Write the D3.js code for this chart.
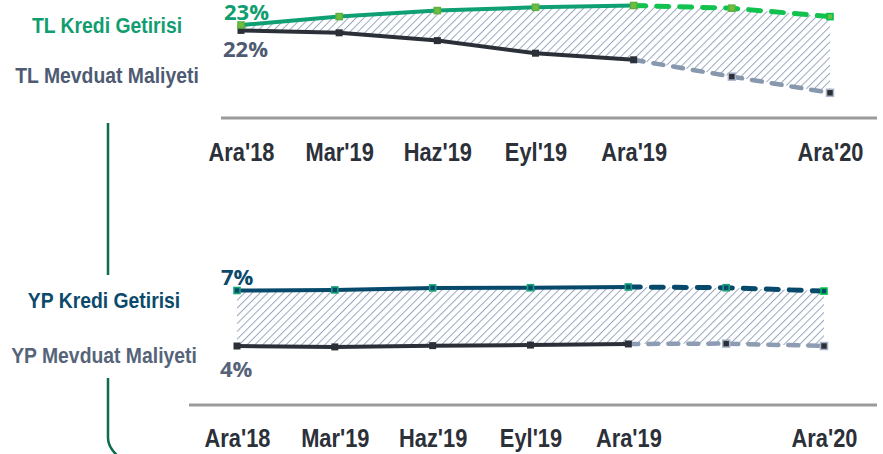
<!DOCTYPE html>
<html>
<head>
<meta charset="utf-8">
<script src="https://cdn.jsdelivr.net/npm/d3@7"></script>
<style>
    body { margin: 0; background: #fff; }
    svg { display: block; }
    .narrow { font-family: "Liberation Sans Narrow", "Arial Narrow", "Liberation Sans", sans-serif; font-weight: bold; }
    .pct { font-family: "Open Sans", "Liberation Sans", sans-serif; font-weight: bold; font-size: 22px; }
    .x-axis text { font-size: 26px; fill: #2b3039; }
</style>
</head>
<body>
<div id="chart"></div>
<script>
// periods (Haz'20 is a forecast point with no label)
const categories = ["Ara'18", "Mar'19", "Haz'19", "Eyl'19", "Ara'19", "Haz'20", "Ara'20"];
const tickLabels = ["Ara'18", "Mar'19", "Haz'19", "Eyl'19", "Ara'19", "", "Ara'20"];
const actualCount = 5; // first 5 points are actuals, rest forecast

// TL (%)
const tlKredi    = [23.0, 24.4, 25.4, 25.95, 26.25, 25.8, 24.4];
const tlMevduat  = [22.1, 21.7, 20.4, 18.3, 17.2, 14.4, 11.7];

// YP (%)
const ypKredi    = [7.0, 7.03, 7.14, 7.15, 7.19, 7.15, 6.97];
const ypMevduat  = [4.0, 3.95, 4.02, 4.05, 4.11, 4.13, 4.0];

const W = 883, H = 454;

// no narrow font installed -> squeeze the regular bold one
const axisSqueeze = 0.84, legendSqueeze = 0.88;

const svg = d3.select("#chart").append("svg")
    .attr("width", W)
    .attr("height", H);

// hatch pattern for the spread area
svg.append("defs").append("pattern")
    .attr("id", "hatch")
    .attr("patternUnits", "userSpaceOnUse")
    .attr("width", 5.5)
    .attr("height", 5.5)
    .attr("patternTransform", "rotate(45)")
    .append("line")
    .attr("x1", 0).attr("y1", 0)
    .attr("x2", 0).attr("y2", 5.5)
    .attr("stroke", "#98a7be")
    .attr("stroke-width", 2);

class SpreadChart {

    constructor(_opts) {
        this.opts = _opts;
        this.init();
    }

    init() {
        let dv = this;
        let o = dv.opts;

        dv.g = svg.append("g");

        dv.x = d3.scalePoint()
            .domain(categories)
            .range(o.xRange);

        dv.y = d3.scaleLinear()
            .domain(o.yDomain)
            .range(o.yRange);

        // axis labels
        dv.xAxisCall = d3.axisBottom(dv.x)
            .tickSize(0)
            .tickPadding(o.tickPad)
            .tickFormat((d, i) => tickLabels[i]);

        dv.xAxis = dv.g.append("g")
            .attr("class", "x-axis narrow")
            .attr("transform", "translate(0," + o.axisY + ")")
            .call(dv.xAxisCall);
        dv.xAxis.select(".domain").remove();
        dv.xAxis.selectAll("text")
            .attr("transform", "scale(" + axisSqueeze + ",1)");

        // axis base line
        dv.g.append("line")
            .attr("x1", o.axisX[0]).attr("x2", o.axisX[1])
            .attr("y1", o.axisY).attr("y2", o.axisY)
            .attr("stroke", "#9b9b9b")
            .attr("stroke-width", 3);

        dv.update();
    }

    update() {
        let dv = this;
        let o = dv.opts;

        let rows = categories.map((c, i) => ({ cat: c, hi: o.hi[i], lo: o.lo[i], i: i }));

        // hatched spread
        let area = d3.area()
            .x(d => dv.x(d.cat))
            .y0(d => dv.y(d.lo))
            .y1(d => dv.y(d.hi));

        dv.g.append("path")
            .datum(rows)
            .attr("d", area)
            .attr("fill", "url(#hatch)");

        let line = key => d3.line()
            .x(d => dv.x(d.cat))
            .y(d => dv.y(d[key]));

        let actual = rows.slice(0, actualCount);
        let forecast = rows.slice(actualCount - 1);

        // low line
        dv.g.append("path").datum(actual)
            .attr("d", line("lo"))
            .attr("fill", "none")
            .attr("stroke", o.loColor)
            .attr("stroke-width", 4);
        dv.g.append("path").datum(forecast)
            .attr("d", line("lo"))
            .attr("fill", "none")
            .attr("stroke", o.loDash)
            .attr("stroke-width", 4.5)
            .attr("stroke-linecap", "round")
            .attr("stroke-dasharray", "10,10");

        // high line
        dv.g.append("path").datum(actual)
            .attr("d", line("hi"))
            .attr("fill", "none")
            .attr("stroke", o.hiColor)
            .attr("stroke-width", 4);
        dv.g.append("path").datum(forecast)
            .attr("d", line("hi"))
            .attr("fill", "none")
            .attr("stroke", o.hiDash)
            .attr("stroke-width", 5)
            .attr("stroke-linecap", "round")
            .attr("stroke-dasharray", "12,11");

        // markers
        dv.g.selectAll(".loMark")
            .data(rows)
            .enter().append("rect")
            .attr("class", "loMark")
            .attr("x", d => dv.x(d.cat) - 3.5)
            .attr("y", d => dv.y(d.lo) - 3.5)
            .attr("width", 7).attr("height", 7)
            .attr("fill", "#2b3038")
            .attr("stroke", d => d.i >= actualCount ? "#a9b5c7" : "none")
            .attr("stroke-width", 1.5);

        dv.g.selectAll(".hiMark")
            .data(rows)
            .enter().append("rect")
            .attr("class", "hiMark")
            .attr("x", d => dv.x(d.cat) - 3)
            .attr("y", d => dv.y(d.hi) - 3)
            .attr("width", 6).attr("height", 6)
            .attr("fill", o.markFill)
            .attr("stroke", d => d.i == categories.length - 1 ? "#00c04b" : o.markStroke)
            .attr("stroke-width", 1.6);

        // value labels
        let x0 = dv.x(categories[0]);
        dv.g.append("text")
            .attr("class", "pct")
            .attr("x", x0 + o.hiLabel[0])
            .attr("y", dv.y(o.hi[0]) + o.hiLabel[1])
            .attr("fill", o.hiText)
            .text(Math.round(o.hi[0]) + "%");
        dv.g.append("text")
            .attr("class", "pct")
            .attr("x", x0 + o.loLabel[0])
            .attr("y", dv.y(o.lo[0]) + o.loLabel[1])
            .attr("fill", o.loText)
            .text(Math.round(o.lo[0]) + "%");

        // legend labels
        let names = [[o.hiName, o.hiText], [o.loName, o.loText]];
        names.forEach((n, i) => {
            dv.g.append("g")
                .attr("transform", "translate(" + o.legendX + "," + o.legendY[i] + ") scale(" + legendSqueeze + ",1)")
                .append("text")
                .attr("class", "narrow")
                .attr("text-anchor", "middle")
                .attr("font-size", 22)
                .attr("fill", n[1])
                .text(n[0]);
        });
    }
}

new SpreadChart({
    hi: tlKredi, lo: tlMevduat,
    hiName: "TL Kredi Getirisi", loName: "TL Mevduat Maliyeti",
    xRange: [241, 830], yDomain: [10, 26], yRange: [103, 7],
    axisY: 118, axisX: [221, 877], tickPad: 25,
    hiColor: "#0e9f73", hiDash: "#12c24e", loColor: "#2b3038", loDash: "#8797ae",
    markFill: "#6fbf3c", markStroke: "#5fb040",
    hiText: "#119d70", loText: "#4e5b72",
    hiLabel: [-17, -5], loLabel: [-18, 27],
    legendX: 107, legendY: [33, 83]
});

new SpreadChart({
    hi: ypKredi, lo: ypMevduat,
    hiName: "YP Kredi Getirisi", loName: "YP Mevduat Maliyeti",
    xRange: [237, 824], yDomain: [3, 8], yRange: [364.5, 272],
    axisY: 405, axisX: [189, 877], tickPad: 24,
    hiColor: "#06496b", hiDash: "#06496b", loColor: "#2b3038", loDash: "#8e9cb3",
    markFill: "#06496b", markStroke: "#17a37a",
    hiText: "#0b4a6b", loText: "#56647a",
    hiLabel: [-16, -6], loLabel: [-17, 31],
    legendX: 104, legendY: [308, 363]
});

// bracket line on the left
svg.append("line")
    .attr("x1", 108).attr("x2", 108)
    .attr("y1", 123).attr("y2", 275)
    .attr("stroke", "#0d6b4e")
    .attr("stroke-width", 2.5);

svg.append("path")
    .attr("d", "M108,378 V438 Q108,448 120,458")
    .attr("fill", "none")
    .attr("stroke", "#0d6b4e")
    .attr("stroke-width", 2.5);
</script>
</body>
</html>
